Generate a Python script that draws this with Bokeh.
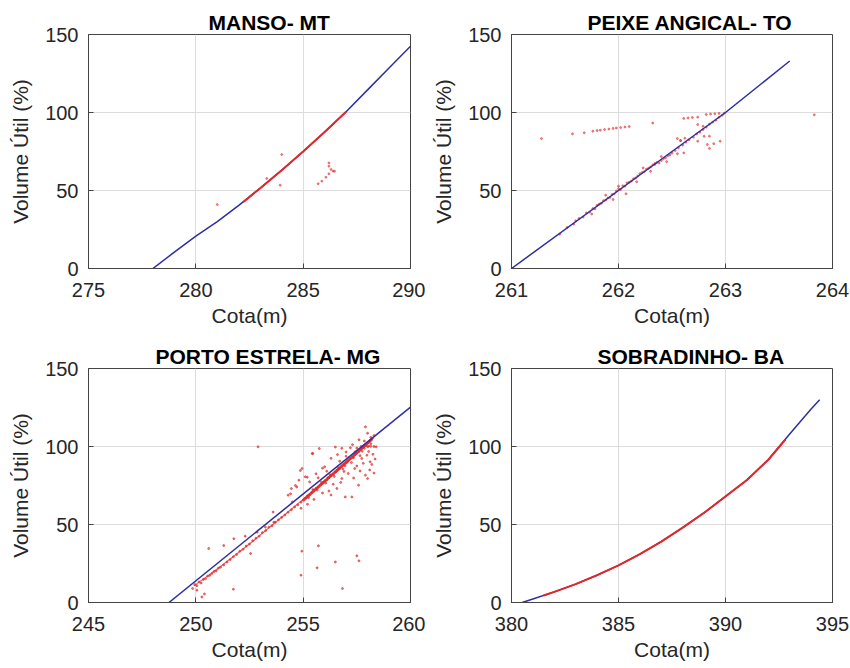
from bokeh.plotting import figure
from bokeh.layouts import gridplot
from bokeh.models import FixedTicker
from bokeh.embed import file_html
from bokeh.resources import INLINE

# ---------------- DATA ----------------
# MANSO - MT
manso_curve_cota = [278, 279, 280, 281, 282, 283, 284, 285, 286, 287, 288, 289, 290]
manso_curve_vol = [0, 10.5, 20.7, 30, 40.5, 51.5, 63, 75, 87.5, 100.5, 114.5, 128.5, 142.5]
manso_obs_cota = [282.2, 283, 284, 285, 286, 287]
manso_obs_vol = [42.5, 51.5, 63, 75, 87.5, 100.5]
manso_pts_cota = [281.0, 284.0, 283.93, 283.3, 285.7, 285.87, 286.06, 286.2, 286.4, 286.2, 286.2, 286.3, 286.46]
manso_pts_vol = [41, 73, 53.4, 57.7, 54.3, 56, 58.5, 60.7, 62.4, 67.7, 65.6, 63.5, 62.4]

# PEIXE ANGICAL - TO
peixe_curve_cota = [261, 262, 263, 263.6]
peixe_curve_vol = [0, 50, 100, 133]
peixe_pts_cota = [
    261.45, 261.52, 261.58, 261.63, 261.67, 261.70, 261.73, 261.76, 261.78, 261.80,
    261.82, 261.84, 261.86, 261.88, 261.90, 261.92, 261.94, 261.96, 261.98, 262.00,
    262.02, 262.04, 262.06, 262.08, 262.10, 262.12, 262.14, 262.16, 262.18, 262.20,
    262.22, 262.24, 262.26, 262.28, 262.30, 262.32, 262.34, 262.36, 262.38, 262.40,
    262.42, 262.44, 262.46, 262.48, 262.50, 262.53, 262.56, 262.60, 262.63, 262.66,
    262.70, 262.73, 262.76, 262.79, 262.82, 262.85, 262.88, 262.91, 262.94, 262.97,
    261.88, 261.95, 262.07, 262.00, 262.23, 262.34, 262.17, 262.45, 262.55, 262.62,
    262.58, 262.61, 262.55, 262.30, 262.40, 261.75, 261.60,
    261.28, 261.57, 261.68,
    261.76, 261.80, 261.83, 261.87, 261.91, 261.95, 261.98, 262.02, 262.06, 262.10,
    262.32,
    262.61, 262.65, 262.69, 262.74, 262.82, 262.86, 262.90, 262.94, 262.99,
    263.83,
    262.74, 262.83, 262.85, 262.89, 262.95, 262.80, 262.85, 262.74, 262.79, 262.58,
]
peixe_pts_vol = [
    22.0, 26.3, 28.4, 32.1, 33.0, 35.6, 36.1, 38.4, 38.2, 40.5,
    41.3, 41.8, 43.5, 43.9, 45.2, 45.5, 47.4, 47.8, 49.6, 51.2,
    50.6, 53.0, 52.8, 54.9, 55.3, 56.0, 57.5, 58.0, 59.3, 60.8,
    61.5, 62.0, 63.6, 64.2, 65.1, 66.4, 67.3, 68.0, 67.6, 69.2,
    70.4, 71.0, 72.3, 72.8, 74.0, 75.6, 77.4, 79.1, 81.0, 82.5,
    84.1, 86.2, 87.4, 89.1, 90.6, 92.5, 93.8, 95.0, 96.9, 98.3,
    47.0, 44.2, 47.9, 52.8, 64.5, 66.7, 55.6, 68.5, 73.6, 83.5,
    82.0, 74.1, 83.3, 62.3, 71.8, 34.9, 30.6,
    83.3, 86.3, 87.0,
    88.0, 88.4, 88.7, 89.1, 89.4, 89.8, 90.1, 90.4, 90.7, 91.0,
    93.2,
    96.2, 96.5, 96.8, 97.0, 98.7, 99.0, 99.2, 99.4, 99.6,
    98.5,
    81.6, 79.5, 77.0, 80.0, 81.6, 84.8, 84.8, 92.3, 91.2, 82.0,
]

# PORTO ESTRELA - MG
porto_curve_cota = [248.75, 260]
porto_curve_vol = [0, 125.2]
porto_pts_cota = [
    249.85, 249.95, 250.05, 250.15, 250.25, 250.35, 250.45, 250.55, 250.65, 250.75,
    250.85, 250.95, 251.05, 251.15, 251.30, 251.45, 251.60, 251.75, 251.90, 252.05,
    252.20, 252.35, 252.50, 252.65, 252.80, 252.95, 253.10, 253.25, 253.40, 253.55,
    253.70, 253.85, 254.00, 254.15, 254.30, 254.45, 254.60, 254.75, 254.90, 255.00,
    255.10, 255.20, 255.30, 255.40, 255.50, 255.60, 255.70, 255.80, 255.90, 256.00,
    256.10, 256.20, 256.30, 256.40, 256.50, 256.60, 256.70, 256.80, 256.90, 257.00,
    257.10, 257.20, 257.30, 257.40, 257.50, 257.60, 257.70, 257.80, 257.90, 258.00,
    258.10, 258.20,
    255.25, 255.45, 255.65, 255.85, 256.05, 256.25, 256.45, 256.65, 256.85, 257.05,
    257.25, 257.45, 257.65, 257.85, 258.05, 258.15, 256.15, 256.55, 256.95, 257.35,
    257.75,
    257.70, 257.85, 258.00, 258.15, 258.30, 258.40,
    255.45, 255.75, 256.00, 256.50, 256.80, 257.20, 257.90, 258.00, 258.30, 254.30,
    254.45, 254.95, 254.80, 253.60, 254.50, 254.70, 255.10, 255.30, 255.60, 255.90,
    256.30, 256.60, 257.00, 257.30, 257.60, 258.25, 258.35, 258.20, 258.10, 258.30,
    258.00, 257.90, 257.58, 257.27, 256.96, 257.40, 256.80, 256.57, 257.73, 257.97,
    258.12, 257.42, 256.20, 256.40, 256.75, 257.10, 257.50, 257.80, 258.05, 256.90,
    257.35, 257.65, 256.30, 255.90, 255.50, 255.20, 254.90, 255.70, 256.10, 256.70,
    257.00, 257.50, 257.85, 258.15,
    250.60, 251.30, 251.77, 252.30, 252.86, 253.24, 253.63, 254.41, 254.64, 254.87,
    255.19, 255.42, 252.55,
    250.05, 250.28, 251.75, 254.90, 255.65, 255.71, 256.50, 256.83, 257.50, 257.60,
    254.94, 252.90, 250.40,
]
porto_pts_vol = [
    9.0, 11.5, 10.8, 13.2, 12.5, 14.8, 15.2, 16.9, 17.4, 18.6,
    19.9, 20.3, 22.0, 22.6, 24.1, 25.9, 27.5, 29.3, 30.8, 32.9,
    34.1, 36.2, 37.5, 39.6, 41.2, 42.5, 44.8, 46.1, 48.3, 49.2,
    51.4, 53.0, 54.6, 56.1, 57.8, 59.5, 61.2, 62.6, 64.3, 65.5,
    66.8, 68.3, 69.1, 70.6, 71.9, 73.2, 74.0, 75.5, 76.4, 77.8,
    78.6, 80.1, 81.4, 82.2, 83.7, 84.9, 85.8, 87.3, 88.5, 89.4,
    90.8, 92.1, 93.0, 94.6, 95.7, 96.8, 98.2, 99.5, 100.6, 102.1,
    103.4, 104.8,
    67.2, 72.4, 72.1, 77.2, 76.5, 81.9, 80.8, 86.3, 85.6, 90.1,
    89.7, 95.2, 94.1, 98.8, 100.2, 101.8, 79.9, 84.1, 87.6, 92.9,
    97.0,
    100.0, 100.2, 99.9, 100.1, 100.0, 99.8,
    95.5, 98.7, 87.0, 99.6, 98.9, 99.2, 112.6, 108.5, 107.0, 68.8,
    73.0, 85.9, 78.4, 58.0, 64.5, 74.1, 80.6, 77.3, 82.5, 86.1,
    92.4, 94.8, 96.5, 101.2, 104.3, 95.0, 92.0, 88.5, 85.0, 83.0,
    79.5, 81.6, 75.2, 67.7, 67.7, 85.9, 79.5, 73.1, 92.3, 94.4,
    90.2, 96.6, 71.5, 75.8, 77.0, 82.7, 87.5, 89.2, 96.8, 84.0,
    79.8, 84.3, 68.9, 70.2, 66.1, 63.0, 60.4, 79.9, 84.2, 90.6,
    93.8, 99.0, 103.5, 105.9,
    34.6, 36.5, 40.9, 42.5, 45.1, 48.3, 51.5, 69.7, 75.0, 84.6,
    80.3, 95.5, 31.4,
    7.9, 3.6, 8.5, 17.5, 22.2, 36.3, 26.0, 9.0, 29.9, 26.7,
    32.9, 99.8, 5.5,
]
# observed dense band (drawn as thin trace) and its densest upper part
porto_band_cota = [249.9, 251.0, 252.5, 254.0, 255.5, 256.5, 257.5, 258.3]
porto_band_vol = [10.5, 21.5, 37.5, 54.6, 71.9, 83.7, 95.7, 105.5]
porto_dense_cota = [255.0, 256.5, 258.2]
porto_dense_vol = [65.5, 83.7, 104.8]

# SOBRADINHO - BA
sobra_curve_cota = [380.5, 381, 382, 383, 384, 385, 386, 387, 388, 389, 390, 391, 392, 393, 394, 394.4]
sobra_curve_vol = [0, 2.2, 6.8, 11.8, 17.5, 23.8, 31, 39, 48, 57.5, 68, 78.5, 91.5, 108, 124, 130]
sobra_obs_cota = [381.5, 382, 383, 384, 385, 386, 387, 388, 389, 390, 391, 392, 392.8]
sobra_obs_vol = [4.5, 6.8, 11.8, 17.5, 23.8, 31, 39, 48, 57.5, 68, 78.5, 91.5, 104.5]

titles = ["MANSO- MT", "PEIXE ANGICAL- TO", "PORTO ESTRELA- MG", "SOBRADINHO- BA"]

BLUE = "#2e2ea3"
RED = "#e02828"
TXT = "#262626"
FONT = "Liberation Sans"


def make_fig(xr, xticks, left, right, title, title_offset):
    p = figure(width=425, height=334, x_range=xr, y_range=(0, 150),
               output_backend="svg", toolbar_location=None,
               min_border_left=left, min_border_right=right,
               min_border_top=34, min_border_bottom=66,
               x_axis_label="Cota(m)", y_axis_label="Volume Útil (%)")
    p.title.text = title
    p.title.align = "left"
    p.title.offset = title_offset
    p.title.standoff = 2
    p.title.text_font = FONT
    p.title.text_font_size = "21px"
    p.title.text_font_style = "bold"
    p.title.text_color = "black"
    p.outline_line_color = "#444444"
    p.outline_line_width = 1
    p.background_fill_color = "white"
    p.border_fill_color = "white"
    for ax, ticks in ((p.xaxis[0], xticks), (p.yaxis[0], [0, 50, 100, 150])):
        ax.ticker = FixedTicker(ticks=ticks)
        ax.axis_line_color = "#444444"
        ax.major_tick_in = 5
        ax.major_tick_out = 0
        ax.major_tick_line_color = "#444444"
        ax.minor_tick_line_color = None
        ax.major_label_text_font = FONT
        ax.major_label_text_font_size = "20px"
        ax.major_label_text_color = TXT
        ax.axis_label_text_font = FONT
        ax.axis_label_text_font_size = "21px"
        ax.axis_label_text_font_style = "normal"
        ax.axis_label_text_color = TXT
    p.xaxis[0].major_label_standoff = 14
    p.xaxis[0].axis_label_standoff = 4
    p.yaxis[0].major_label_standoff = 10
    p.yaxis[0].axis_label_standoff = 10
    p.xgrid.ticker = FixedTicker(ticks=xticks)
    p.ygrid.ticker = FixedTicker(ticks=[0, 50, 100, 150])
    p.xgrid.grid_line_color = "#dcdcdc"
    p.ygrid.grid_line_color = "#dcdcdc"
    return p


# Panel 1
p1 = make_fig((275, 290), [275, 280, 285, 290], 88, 15, titles[0], 120)
p1.line(manso_curve_cota, manso_curve_vol, line_color=BLUE, line_width=1.5)
p1.line(manso_obs_cota, manso_obs_vol, line_color=RED, line_width=2)
p1.scatter(manso_pts_cota, manso_pts_vol, size=2, color=RED, alpha=0.5)

# Panel 2
p2 = make_fig((261, 264), [261, 262, 263, 264], 86, 18, titles[1], 76)
p2.scatter(peixe_pts_cota, peixe_pts_vol, size=2, color=RED, alpha=0.5)
p2.line(peixe_curve_cota, peixe_curve_vol, line_color=BLUE, line_width=1.5)

# Panel 3
p3 = make_fig((245, 260), [245, 250, 255, 260], 88, 15, titles[2], 67)
p3.line(porto_band_cota, porto_band_vol, line_color=RED, line_width=1.2, alpha=0.7)
p3.line(porto_dense_cota, porto_dense_vol, line_color=RED, line_width=3, alpha=0.8)
p3.scatter(porto_pts_cota, porto_pts_vol, size=2, color=RED, alpha=0.6)
p3.line(porto_curve_cota, porto_curve_vol, line_color=BLUE, line_width=1.5)

# Panel 4
p4 = make_fig((380, 395), [380, 385, 390, 395], 86, 18, titles[3], 86)
p4.line(sobra_curve_cota, sobra_curve_vol, line_color=BLUE, line_width=1.5)
p4.line(sobra_obs_cota, sobra_obs_vol, line_color=RED, line_width=2)

grid = gridplot([[p1, p2], [p3, p4]], toolbar_location=None)

open("out.html", "w").write(file_html(grid, INLINE))
